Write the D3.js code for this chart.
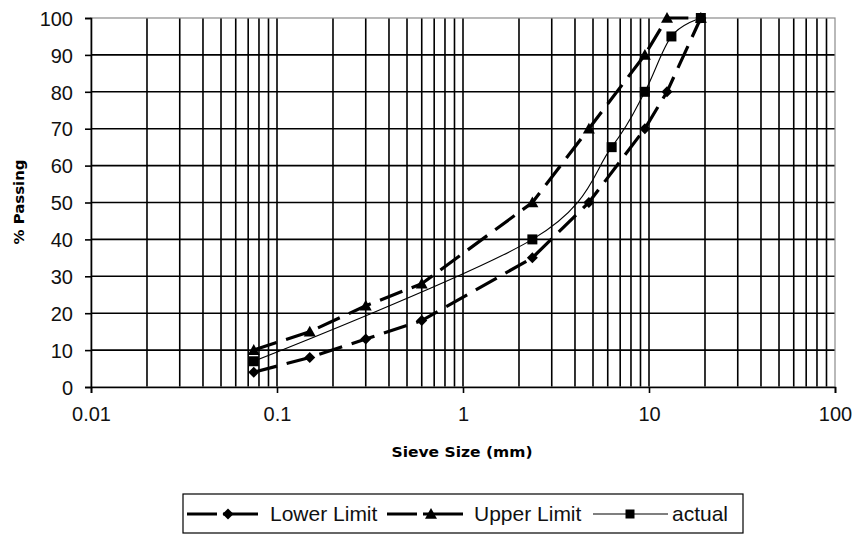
<!DOCTYPE html>
<html><head><meta charset="utf-8">
<script src="https://cdn.jsdelivr.net/npm/d3@7"></script>
<style>body{margin:0;background:#fff}svg{display:block}</style>
</head><body>
<svg id="chart" width="852" height="535"></svg>
<script>
// Grading envelope and measured grading
const sieveSizes  = [0.075, 0.15, 0.3, 0.6, 2.36, 4.75, 9.5, 12.5, 19];
const lowerLimit  = [4, 8, 13, 18, 35, 50, 70, 80, 100];
const upperLimit  = [10, 15, 22, 28, 50, 70, 90, 100, 100];
const actualSizes = [0.075, 2.36, 6.3, 9.5, 13.2, 19];
const actualPass  = [7, 40, 65, 80, 95, 100];
const xTickValues = [0.01, 0.1, 1, 10, 100];
const yTickValues = [0, 10, 20, 30, 40, 50, 60, 70, 80, 90, 100];
const seriesNames = ["Lower Limit", "Upper Limit", "actual"];

const svg = d3.select("#chart");
const plotL = 91, plotR = 835, plotT = 18, plotB = 387;

const x = d3.scaleLog().domain([0.01, 100]).range([plotL, plotR]);
const y = d3.scaleLinear().domain([0, 100]).range([plotB, plotT]);

svg.append("rect").attr("width", 852).attr("height", 535).attr("fill", "#fff");

// gridlines
const minorX = [];
[0.01, 0.1, 1, 10].forEach(d => { for (let k = 1; k <= 9; k++) minorX.push(d * k); });
const grid = svg.append("g").attr("stroke", "#000").attr("stroke-width", 1.6);
grid.selectAll("line.v").data(minorX.filter(v => v > 0.0101)).join("line")
  .attr("x1", d => x(d)).attr("x2", d => x(d)).attr("y1", plotT).attr("y2", plotB);
grid.selectAll("line.h").data(yTickValues.filter(v => v > 0 && v < 100)).join("line")
  .attr("x1", plotL).attr("x2", plotR).attr("y1", d => y(d)).attr("y2", d => y(d));

// plot border
svg.append("rect").attr("x", plotL).attr("y", plotT).attr("width", plotR - plotL).attr("height", plotB - plotT)
  .attr("fill", "none").attr("stroke", "#8a8a8a").attr("stroke-width", 1.2);

// axes
const yAxis = d3.axisLeft(y).tickValues(yTickValues).tickSize(6).tickPadding(12).tickFormat(d3.format("d"));
const xAxis = d3.axisBottom(x).tickValues(xTickValues).tickSize(6).tickPadding(14).tickFormat(d => String(d));
const gy = svg.append("g").attr("transform", `translate(${plotL},0)`).call(yAxis);
const gx = svg.append("g").attr("transform", `translate(0,${plotB})`).call(xAxis);
[gx, gy].forEach(g => {
  g.select(".domain").attr("stroke", "#000").attr("stroke-width", 1.6);
  g.selectAll(".tick line").attr("stroke", "#000").attr("stroke-width", 1.6);
  g.selectAll(".tick text").attr("fill", "#111").attr("font-family", "Liberation Sans, Arial, sans-serif").attr("font-size", 20);
});
gy.selectAll(".tick text").attr("dy", "0.36em");

// axis titles
svg.append("text").attr("x", 462).attr("y", 457).attr("text-anchor", "middle")
  .attr("font-family", "DejaVu Sans, sans-serif").attr("font-weight", "bold").attr("font-size", 14)
  .attr("textLength", 141).attr("lengthAdjust", "spacingAndGlyphs").text("Sieve Size (mm)");
svg.append("text").attr("transform", "translate(24,202) rotate(-90)").attr("text-anchor", "middle")
  .attr("font-family", "DejaVu Sans, sans-serif").attr("font-weight", "bold").attr("font-size", 14)
  .attr("textLength", 85).attr("lengthAdjust", "spacingAndGlyphs").text("% Passing");

// markers
function marker(type, cx, cy, r) {
  const p = d3.path();
  if (type === "diamond") {
    p.moveTo(cx, cy - r); p.lineTo(cx + r, cy); p.lineTo(cx, cy + r); p.lineTo(cx - r, cy); p.closePath();
  } else if (type === "triangle") {
    p.moveTo(cx, cy - r); p.lineTo(cx + r, cy + r * 0.8); p.lineTo(cx - r, cy + r * 0.8); p.closePath();
  } else {
    p.rect(cx - r, cy - r, 2 * r, 2 * r);
  }
  return p.toString();
}

const limitLine = d3.line().x(d => x(d[0])).y(d => y(d[1]));
const actualLine = d3.line().x(d => x(d[0])).y(d => y(d[1])).curve(d3.curveCardinal.tension(0));

const lowerData = sieveSizes.map((s, i) => [s, lowerLimit[i]]);
const upperData = sieveSizes.map((s, i) => [s, upperLimit[i]]);
const actualData = actualSizes.map((s, i) => [s, actualPass[i]]);

const series = [
  { name: seriesNames[0], data: lowerData, shape: "diamond", r: 5.5, dashed: true, line: limitLine },
  { name: seriesNames[1], data: upperData, shape: "triangle", r: 6, dashed: true, line: limitLine },
  { name: seriesNames[2], data: actualData, shape: "square", r: 5, dashed: false, line: actualLine }
];

series.forEach(s => {
  svg.append("path").datum(s.data).attr("d", s.line).attr("fill", "none").attr("stroke", "#000")
    .attr("stroke-width", s.dashed ? 3.2 : 1.1)
    .attr("stroke-dasharray", s.dashed ? "24,10" : null);
  svg.append("g").selectAll("path").data(s.data).join("path")
    .attr("d", d => marker(s.shape, x(d[0]), y(d[1]), s.r)).attr("fill", "#000");
});

// legend
const lg = svg.append("g");
lg.append("rect").attr("x", 183).attr("y", 494).attr("width", 560).attr("height", 39)
  .attr("fill", "#fff").attr("stroke", "#000").attr("stroke-width", 1.2);
const legendItems = [
  { x0: 187, x1: 258, mx: 228, tx: 270, shape: "diamond", r: 5.5, dashed: true },
  { x0: 387, x1: 463, mx: 431, tx: 474, shape: "triangle", r: 6, dashed: true },
  { x0: 593, x1: 668, mx: 630, tx: 672, shape: "square", r: 4.5, dashed: false }
];
legendItems.forEach((it, i) => {
  const ly = 514;
  lg.append("line").attr("x1", it.x0).attr("x2", it.x1).attr("y1", ly).attr("y2", ly)
    .attr("stroke", "#000").attr("stroke-width", it.dashed ? 3.2 : 1.1)
    .attr("stroke-dasharray", it.dashed ? "30,6,60" : null);
  lg.append("path").attr("d", marker(it.shape, it.mx, ly, it.r)).attr("fill", "#000");
  lg.append("text").attr("x", it.tx).attr("y", ly + 7).attr("font-family", "Liberation Sans, Arial, sans-serif")
    .attr("font-size", 21).attr("fill", "#111").text(seriesNames[i]);
});
</script>
</body></html>
